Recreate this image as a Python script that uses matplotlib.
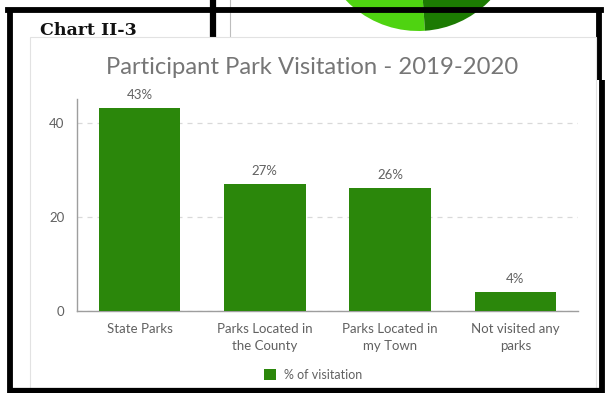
import matplotlib
matplotlib.use("Agg")
import matplotlib.pyplot as plt
from matplotlib.patches import Rectangle, Wedge
from matplotlib.lines import Line2D

# Data
categories = ["State Parks", "Parks Located in\nthe County", "Parks Located in\nmy Town", "Not visited any\nparks"]
visitation = [43, 27, 26, 4]
value_labels = ["43%", "27%", "26%", "4%"]
y_ticks = [0, 20, 40]
series_name = "% of visitation"
title = "Participant Park Visitation - 2019-2020"
page_label = "Chart II-3"

W, H = 605, 393
BAR = "#2b870b"
TXT = "#616161"

fig = plt.figure(figsize=(W / 100, H / 100), dpi=100)
fig.patch.set_facecolor("white")

# Page layer in pixel coordinates (y grows downward)
page = fig.add_axes([0, 0, 1, 1], zorder=0)
page.set_xlim(0, W)
page.set_ylim(H, 0)
page.axis("off")

# Part of the neighbouring pie chart above the panel
page.add_patch(Wedge((418, -69), 100, 86, 175, facecolor="#4fd311", edgecolor="none", zorder=1))
page.add_patch(Wedge((418, -69), 100, 5, 86, facecolor="#1c7a02", edgecolor="none", zorder=1))

# Page frame lines
page.add_line(Line2D([213, 213], [0, 38], color="black", lw=4.5, solid_capstyle="butt", zorder=2))
page.add_line(Line2D([230, 230], [0, 37], color="#bdbdbd", lw=0.8, zorder=2))
page.add_line(Line2D([8, 601], [10, 10], color="black", lw=4.2, solid_capstyle="projecting", zorder=2))
page.add_line(Line2D([10, 10], [10, 393], color="black", lw=4.2, solid_capstyle="butt", zorder=2))
page.add_line(Line2D([599, 599], [10, 80], color="black", lw=4.2, solid_capstyle="butt", zorder=2))
page.add_line(Line2D([602, 602], [80, 393], color="black", lw=4.2, solid_capstyle="butt", zorder=2))

page.text(40, 35, page_label, fontsize=12.5, fontweight="bold", family="DejaVu Serif",
          color="#111111", va="baseline", ha="left", zorder=4)

# White chart panel
page.add_patch(Rectangle((30, 37), 566, 370, facecolor="white", edgecolor="#e2e2e2", lw=0.8, zorder=3))
page.add_line(Line2D([8, 601], [390.5, 390.5], color="black", lw=4.5, solid_capstyle="butt", zorder=5))

page.text(312, 68, title, fontsize=17.2, family="Lato", color="#767676",
          ha="center", va="center", zorder=4)

# Bar chart
ax = fig.add_axes([77 / W, 1 - 310.5 / H, 501 / W, 211.5 / H], zorder=6)
ax.patch.set_alpha(0)
x = range(len(categories))
bars = ax.bar(x, visitation, width=0.65, color=BAR, label=series_name, zorder=3)
ax.set_xlim(-0.5, len(categories) - 0.5)
ax.set_ylim(0, 45)
ax.set_yticks(y_ticks)
ax.set_xticks(list(x))
ax.set_xticklabels(categories, fontsize=9.5, family="Lato", color=TXT, linespacing=1.55)
ax.tick_params(axis="x", length=0, pad=9)
ax.tick_params(axis="y", length=0, pad=9, labelsize=9.5, labelcolor=TXT)
for lbl in ax.get_yticklabels():
    lbl.set_family("Lato")
for s in ["top", "right"]:
    ax.spines[s].set_visible(False)
for s in ["left", "bottom"]:
    ax.spines[s].set_color("#9e9e9e")
    ax.spines[s].set_linewidth(1)
ax.yaxis.grid(True, color="#d9d9d9", lw=0.9, linestyle=(0, (4, 4)), zorder=0)
ax.set_axisbelow(True)

for b, txt in zip(bars, value_labels):
    ax.annotate(txt, (b.get_x() + b.get_width() / 2, b.get_height()), xytext=(0, 5),
                textcoords="offset points", ha="center", va="bottom",
                fontsize=9.5, family="Lato", color=TXT)

leg = fig.legend(handles=[bars], labels=[series_name], loc="center",
                 bbox_to_anchor=(313 / W, 1 - 375 / H), frameon=False,
                 handlelength=1.0, handleheight=1.0, handletextpad=0.6,
                 prop={"family": "Lato", "size": 9})
for t in leg.get_texts():
    t.set_color(TXT)
leg.set_zorder(7)

fig.savefig("out.png", dpi=100, facecolor="white")
